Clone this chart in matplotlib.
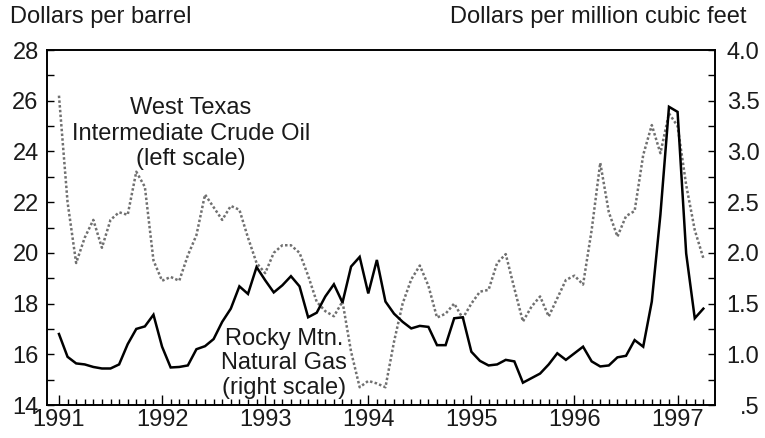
import matplotlib
matplotlib.use("Agg")
import matplotlib.pyplot as plt
import numpy as np

# Monthly data, Jan 1991 - Apr 1997
start_year = 1991
oil_price = [
    26.2, 22.0, 19.6, 20.6, 21.3, 20.2, 21.3, 21.6, 21.5, 23.2, 22.6, 19.7,  # 1991
    18.9, 19.05, 18.9, 19.9, 20.7, 22.3, 21.8, 21.3, 21.85, 21.7, 20.6, 19.6,  # 1992
    19.2, 20.0, 20.3, 20.3, 20.0, 19.1, 18.07, 17.7, 17.5, 18.08, 16.1, 14.7,  # 1993
    14.95, 14.85, 14.7, 16.5, 18.0, 18.95, 19.5, 18.7, 17.45, 17.6, 18.0, 17.42,  # 1994
    18.0, 18.47, 18.54, 19.6, 19.95, 18.6, 17.29, 17.88, 18.28, 17.49, 18.21, 18.93,  # 1995
    19.1, 18.75, 20.9, 23.55, 21.6, 20.64, 21.45, 21.65, 23.86, 25.04, 23.93, 25.5,  # 1996
    25.0, 22.68, 20.9, 19.79,  # 1997
]
gas_price = [
    1.20, 0.975, 0.91, 0.90, 0.875, 0.86, 0.86, 0.90, 1.10, 1.25, 1.275, 1.39,  # 1991
    1.075, 0.87, 0.875, 0.89, 1.05, 1.08, 1.15, 1.32, 1.45, 1.67, 1.595, 1.86,  # 1992
    1.73, 1.61, 1.68, 1.77, 1.67, 1.365, 1.41, 1.57, 1.69, 1.51, 1.865, 1.96,  # 1993
    1.60, 1.93, 1.52, 1.40, 1.32, 1.255, 1.28, 1.27, 1.09, 1.09, 1.355, 1.365,  # 1994
    1.025, 0.935, 0.89, 0.90, 0.945, 0.93, 0.72, 0.765, 0.81, 0.90, 1.01, 0.945,  # 1995
    1.01, 1.075, 0.93, 0.88, 0.89, 0.97, 0.985, 1.14, 1.075, 1.52, 2.375, 3.44,  # 1996
    3.39, 1.995, 1.355, 1.45,  # 1997
]
year_ticks = [1991, 1992, 1993, 1994, 1995, 1996, 1997]
left_ticks = [14, 16, 18, 20, 22, 24, 26, 28]
right_ticks = [0.5, 1.0, 1.5, 2.0, 2.5, 3.0, 3.5, 4.0]
right_labels = [".5", "1.0", "1.5", "2.0", "2.5", "3.0", "3.5", "4.0"]

plt.rcParams["font.family"] = ["Liberation Sans", "DejaVu Sans"]
plt.rcParams["text.color"] = "#1a1a1a"
plt.rcParams["xtick.labelcolor"] = "#1a1a1a"
plt.rcParams["ytick.labelcolor"] = "#1a1a1a"
font_size = 17

t = start_year + np.arange(len(oil_price)) / 12.0

fig = plt.figure(figsize=(7.65, 4.38), dpi=100)
ax = fig.add_axes([47 / 765, 1 - 405 / 438, 668 / 765, 355 / 438])
ax2 = ax.twinx()

ax.plot(t, oil_price, color="#707070", lw=1.8, linestyle=(0, (1, 0.9)))
ax2.plot(t, gas_price, color="black", lw=1.8, solid_joinstyle="miter")

ax.set_xlim(1990.884, 1997.363)
ax.set_ylim(14, 28)
ax2.set_ylim(0.5, 4.0)

# x ticks: years major, months minor (only where there is data)
ax.set_xticks(year_ticks)
ax.set_xticklabels([str(y) for y in year_ticks])
months = t[(t * 12).round() % 12 != 0]
ax.set_xticks(months, minor=True)

ax.set_yticks(left_ticks)
ax.set_yticks(np.arange(15, 28, 2), minor=True)
ax2.set_yticks(right_ticks)
ax2.set_yticklabels(right_labels)
ax2.set_yticks(np.arange(0.75, 4.0, 0.5), minor=True)

for a in (ax, ax2):
    for s in a.spines.values():
        s.set_linewidth(1.2)
    a.tick_params(which="both", direction="in", width=1.0, labelsize=font_size)
ax.tick_params(axis="x", which="major", length=7, pad=3)
ax.tick_params(axis="x", which="minor", length=4)
ax.tick_params(axis="y", which="both", length=5, pad=6)
ax2.tick_params(axis="y", which="both", length=5, pad=32)
for lab in ax2.get_yticklabels():
    lab.set_ha("right")

fig.text(10 / 765, 1 - 17 / 438, "Dollars per barrel", fontsize=font_size,
         ha="left", va="center")
fig.text(746 / 765, 1 - 17 / 438, "Dollars per million cubic feet",
         fontsize=font_size, ha="right", va="center")

ax.text(1992.28, 24.7, "West Texas\nIntermediate Crude Oil\n(left scale)",
        fontsize=font_size, ha="center", va="center", linespacing=1.22)
ax.text(1993.18, 15.65, "Rocky Mtn.\nNatural Gas\n(right scale)",
        fontsize=font_size, ha="center", va="center", linespacing=1.15)

fig.savefig("out.png", dpi=100)
